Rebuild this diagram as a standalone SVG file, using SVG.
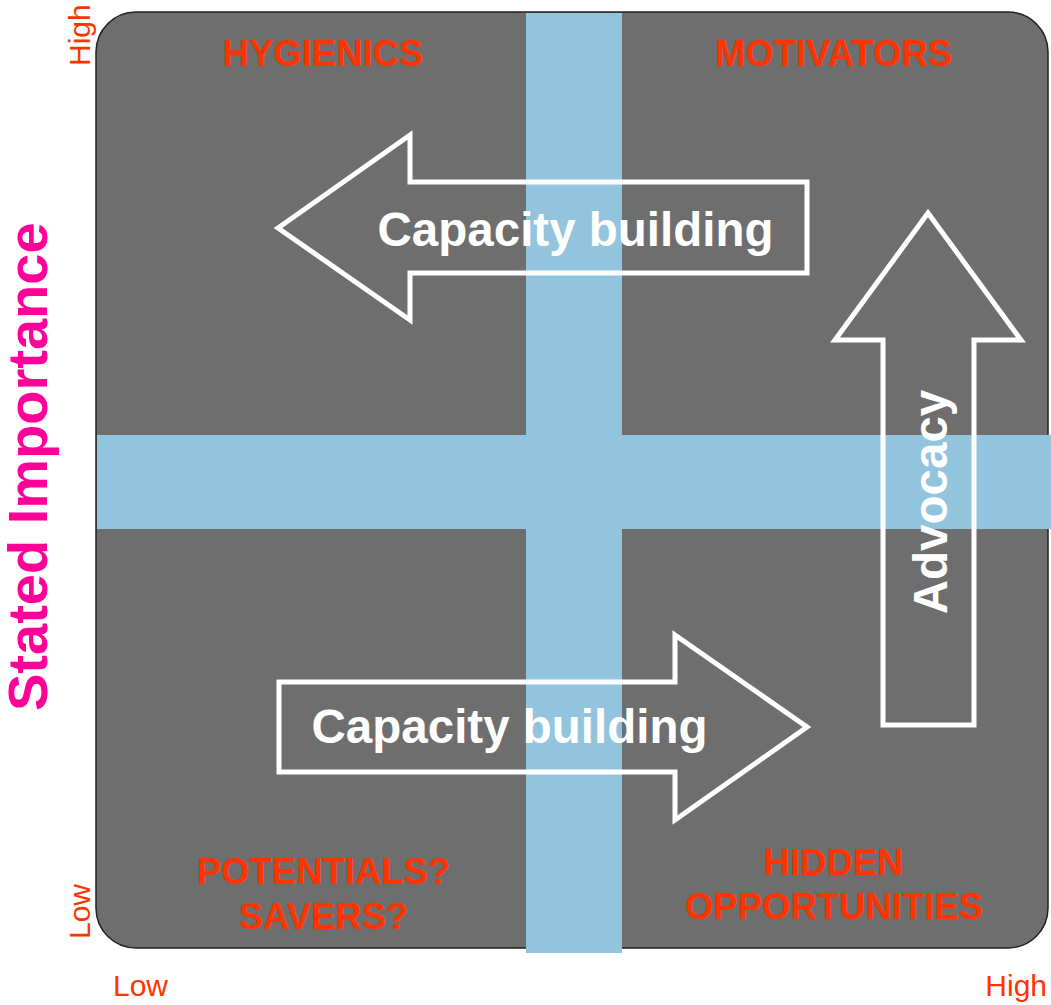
<svg xmlns="http://www.w3.org/2000/svg" width="1051" height="1005" viewBox="0 0 1051 1005">
<style>
.q{font-family:"Liberation Sans",Arial,sans-serif;font-weight:bold;font-size:36.5px;fill:#ff3300;text-anchor:middle}
.ax{font-family:"Liberation Sans",Arial,sans-serif;font-size:30px;fill:#ff3300}
.lbl{font-family:"Liberation Sans",Arial,sans-serif;font-weight:bold;font-size:47.5px;fill:#ffffff;text-anchor:middle}
.arr{fill:none;stroke:#ffffff;stroke-width:5;stroke-linejoin:miter}
.band{fill:#92c4de}
</style>
<rect width="1051" height="1005" fill="#ffffff"/>
<g id="matrix">
<rect x="96" y="12" width="952" height="936" rx="40" ry="40" fill="#6e6e6e" stroke="#222" stroke-width="1.5"/>
<rect class="band" x="526" y="13" width="96" height="940"/>
<rect class="band" x="97" y="435" width="954" height="94"/>
</g>
<g id="connectors">
<g id="arrow-left">
<polygon class="arr" points="278,228 410,135 410,182 807,182 807,273 410,273 410,320"/>
<text class="lbl" x="575.5" y="246">Capacity building</text>
</g>
<g id="arrow-right">
<polygon class="arr" points="279,682 675,682 675,635 807,727 675,820 675,772 279,772"/>
<text class="lbl" x="509.5" y="743">Capacity building</text>
</g>
<g id="arrow-up">
<polygon class="arr" points="928,213 1021,340 974,340 974,725 883,725 883,340 835,340"/>
<text class="lbl" transform="translate(947,502) rotate(-90)" x="0" y="0">Advocacy</text>
</g>
</g>
<g id="q-hygienics"><text class="q" x="323" y="66">HYGIENICS</text></g>
<g id="q-motivators"><text class="q" x="833.5" y="66">MOTIVATORS</text></g>
<g id="q-potentials"><text class="q" x="323.5" y="884">POTENTIALS?</text><text class="q" x="323.5" y="929">SAVERS?</text></g>
<g id="q-hidden"><text class="q" x="833.5" y="875">HIDDEN</text><text class="q" x="834" y="919">OPPORTUNITIES</text></g>
<g id="axes">
<text class="ax" transform="translate(90,66) rotate(-90)">High</text>
<text class="ax" transform="translate(90,939) rotate(-90)">Low</text>
<text class="ax" x="113" y="996">Low</text>
<text class="ax" x="1047" y="996" text-anchor="end">High</text>
<text transform="translate(47,711) rotate(-90)" font-family="'Liberation Sans',Arial,sans-serif" font-weight="bold" font-size="56" fill="#ff0099">Stated Importance</text>
</g>
</svg>
